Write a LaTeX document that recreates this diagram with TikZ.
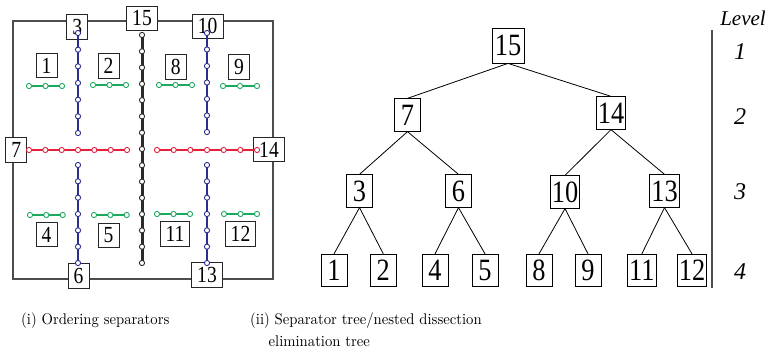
\documentclass[tikz,border=0pt]{standalone}
\usepackage{fontspec}
\usepackage{graphicx}
\newfontfamily\numfont[FakeStretch=0.85]{Liberation Serif}
\newfontfamily\lvlfont{Liberation Serif}
\definecolor{sepred}{HTML}{E5203A}
\definecolor{sepblue}{HTML}{2B2E8C}
\definecolor{sepgreen}{HTML}{1BAA5E}
\definecolor{sepblack}{HTML}{2A2A2A}
\definecolor{framegray}{HTML}{4D4D4D}
\newcommand\mysep[7]{%
  \draw[#1, line width=#2] (#3,#4) -- (#5,#6);
  \foreach \k in {0,...,#7}
    \node[sepdot, draw=#1] at ({#3+(#5-#3)*\k/#7},{#4+(#6-#4)*\k/#7}) {};
}
\newcommand\captscale[1]{\scalebox{1.47}[1.55]{#1}}
\begin{document}
\begin{tikzpicture}[x=1pt,y=-1pt,
  lbl/.style={draw=black!85, fill=white, line width=0.9pt, inner xsep=5.5pt, inner ysep=0pt,
    minimum width=21pt, minimum height=24.5pt, font=\numfont\fontsize{23}{23}\selectfont},
  tn/.style={draw, line width=0.8pt, inner xsep=1.5pt, inner ysep=0pt,
    minimum width=26pt, minimum height=32.5pt, font=\numfont\fontsize{31}{31}\selectfont},
  tedge/.style={line width=0.8pt},
  sepdot/.style={circle, fill=white, line width=0.9pt, inner sep=0pt, minimum size=5.2pt},
  captxt/.style={anchor=base west, inner sep=0pt, font=\fontsize{10}{12}\selectfont},
  lvl/.style={font=\lvlfont\itshape\fontsize{24}{24}\selectfont, inner sep=0pt}
]
\useasboundingbox (0,0) rectangle (770,355);

% ---------- left panel ----------
\draw[framegray, line width=1.2pt] (13,21) rectangle (273,279);

\node[lbl] (l1) at (46.5,65.5) {1};
\node[lbl] (l2) at (108.5,66) {2};
\node[lbl] (l8) at (175.7,67) {8};
\node[lbl] (l9) at (239,67) {9};
\node[lbl] (l3) at (77.3,27) {3};
\node[lbl] (l15) at (142,18.5) {15};
\node[lbl] (l10) at (207.7,26.3) {10};
\node[lbl] (l7) at (16.3,150) {7};
\node[lbl] (l14) at (269,149.5) {14};
\node[lbl] (l6) at (78.5,276) {6};
\node[lbl] (l13) at (207,275) {13};
\node[lbl] (l4) at (46.5,234.5) {4};
\node[lbl] (l5) at (108.5,235.5) {5};
\node[lbl] (l11) at (175,234) {11};
\node[lbl] (l12) at (240.5,234) {12};

\mysep{sepblack}{3pt}{142}{35}{142}{263}{14}
\mysep{sepred}{2.6pt}{29}{150}{127}{150}{6}
\mysep{sepred}{2.6pt}{157}{150}{257}{150}{6}
\mysep{sepblue}{2.3pt}{78}{33}{78}{133}{6}
\mysep{sepblue}{2.3pt}{78}{165}{78}{263}{6}
\mysep{sepblue}{2.3pt}{207}{33}{207}{132}{6}
\mysep{sepblue}{2.3pt}{207}{165}{207}{263}{6}
\mysep{sepgreen}{2pt}{29}{86}{62}{86}{2}
\mysep{sepgreen}{2pt}{93}{85}{126}{85}{2}
\mysep{sepgreen}{2pt}{159}{85}{192}{85}{2}
\mysep{sepgreen}{2pt}{223}{86}{257}{86}{2}
\mysep{sepgreen}{2pt}{30}{215}{62.7}{215}{2}
\mysep{sepgreen}{2pt}{94}{215}{126.7}{215}{2}
\mysep{sepgreen}{2pt}{157}{214}{190}{214}{2}
\mysep{sepgreen}{2pt}{224}{214}{257}{214}{2}

% ---------- tree ----------
\node[tn, minimum width=32pt, minimum height=35pt] (t15) at (508,45.5) {15};
\node[tn] (t7) at (407.5,115) {7};
\node[tn] (t14) at (611,113) {14};
\node[tn] (t3) at (359.5,191) {3};
\node[tn] (t6) at (458.5,191) {6};
\node[tn] (t10) at (565,192) {10};
\node[tn] (t13) at (664.5,191) {13};
\node[tn] (t1) at (334,270.5) {1};
\node[tn] (t2) at (383.3,270.5) {2};
\node[tn] (t4) at (435,270.5) {4};
\node[tn] (t5) at (485,270.5) {5};
\node[tn] (t8) at (539,270.5) {8};
\node[tn] (t9) at (588,270.5) {9};
\node[tn] (t11) at (641.8,270.5) {11};
\node[tn] (t12) at (692,270.5) {12};

\foreach \p/\c in {t15/t7,t15/t14,t7/t3,t7/t6,t14/t10,t14/t13,
  t3/t1,t3/t2,t6/t4,t6/t5,t10/t8,t10/t9,t13/t11,t13/t12}
  \draw[tedge] (\p.south) -- (\c.north);

% ---------- levels ----------
\coordinate (lvtop) at (712,30);
\coordinate (lvbot) at (712,288);
\draw[framegray, line width=1.2pt] (lvtop) -- (lvbot);
\node[lvl, font=\lvlfont\itshape\fontsize{21}{21}\selectfont] (lvh) at (743,18) {Level};
\node[lvl] (lv1) at (740,52) {1};
\node[lvl] (lv2) at (740,117) {2};
\node[lvl] (lv3) at (740,192) {3};
\node[lvl] (lv4) at (740,272) {4};

% ---------- captions ----------
\node[captxt] (c1) at (21,324.5) {\captscale{(i) Ordering separators}};
\node[captxt] (c2) at (250,324.5) {\captscale{(ii) Separator tree/nested dissection}};
\node[captxt] (c3) at (268.5,346.5) {\captscale{elimination tree}};
\end{tikzpicture}
\end{document}
